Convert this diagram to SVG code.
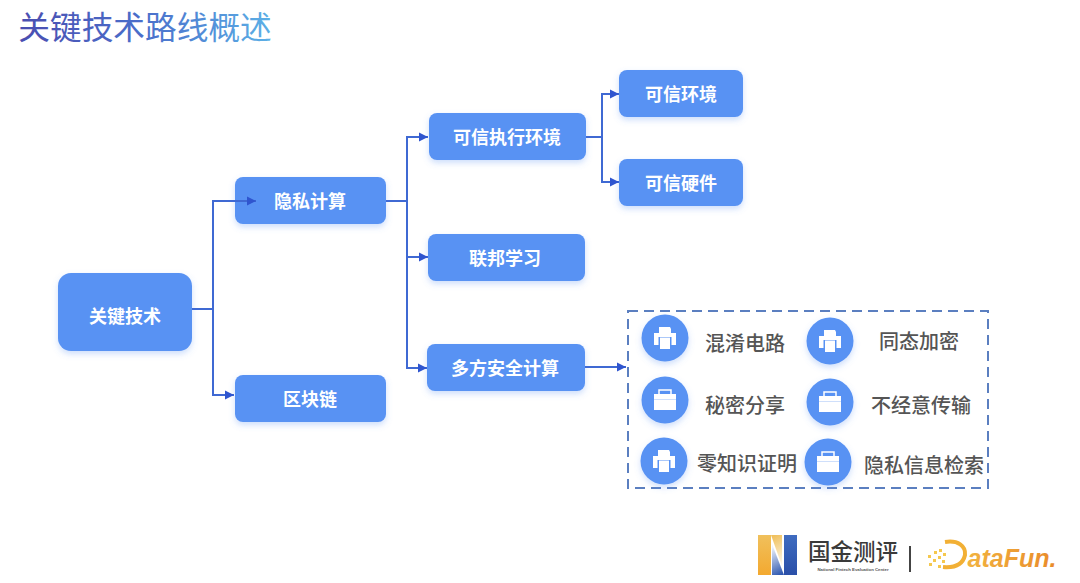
<svg xmlns="http://www.w3.org/2000/svg" width="1080" height="583" viewBox="0 0 1080 583">
<style>
text{font-family:"Noto Sans CJK SC","Liberation Sans",sans-serif;text-anchor:middle}
.n{fill:#5892f3;filter:url(#sh)}
.nt{fill:#fff;font-size:18px;font-weight:700}
.lb{fill:#555;font-size:20px;font-weight:500}
.c{fill:none;stroke:#3f69d3;stroke-width:2}
.dot{fill:#f5c84e}
</style>
<defs>
<linearGradient id="tg" gradientUnits="userSpaceOnUse" x1="18" y1="0" x2="272" y2="0"><stop offset="0" stop-color="#4a4db0"/><stop offset=".5" stop-color="#4a6fcb"/><stop offset="1" stop-color="#5cb0e6"/></linearGradient>
<linearGradient id="nl" x1="0" y1="0" x2="0" y2="1"><stop offset="0" stop-color="#f0c05c"/><stop offset="1" stop-color="#f3a930"/></linearGradient>
<linearGradient id="nlf" gradientUnits="userSpaceOnUse" x1="771" y1="537" x2="784" y2="562"><stop offset="0" stop-color="#f0c05c"/><stop offset="1" stop-color="#fdf6e6"/></linearGradient>
<linearGradient id="nr" x1="0" y1="0" x2="0" y2="1"><stop offset="0" stop-color="#3f6cc0"/><stop offset="1" stop-color="#2a4fa8"/></linearGradient>
<linearGradient id="nrf" gradientUnits="userSpaceOnUse" x1="784" y1="573" x2="771" y2="548"><stop offset="0" stop-color="#2f58b0"/><stop offset="1" stop-color="#eef2fb"/></linearGradient>
<linearGradient id="df" gradientUnits="userSpaceOnUse" x1="945" y1="0" x2="1058" y2="0"><stop offset="0" stop-color="#f4bd45"/><stop offset="1" stop-color="#e98a2a"/></linearGradient>
<filter id="sh" x="-15%" y="-20%" width="130%" height="150%"><feDropShadow dx="0" dy="3" stdDeviation="3" flood-color="#5892f3" flood-opacity=".3"/></filter>
<marker id="a" markerUnits="userSpaceOnUse" markerWidth="12" markerHeight="12" refX="10" refY="6" orient="auto"><path d="M1 1.500L10 6L1 10.500Z" fill="#2f55cf"/></marker>
<g id="printer"><path d="M-6-11H5L6-9V-5H-6Z" fill="#fff"/><path d="M-11-5H11V7H-11Z" fill="#fff"/><path d="M-6.500-1H6.500V12H-6.500Z" fill="#5892f3"/><path d="M-5-.5H5V11H-5Z" fill="#fff"/></g>
<g id="case"><path d="M-6-6V-10H6V-6" fill="none" stroke="#fff" stroke-width="1.500"/><path d="M-11-6H11V10H-11Z" fill="#fff"/><path d="M-11-.5H11" stroke="#cfdffb" stroke-width="1"/></g>
</defs>
<rect width="1080" height="583" fill="#fff"/>
<text id="title" x="145" y="39" style="font-size:31.700px;fill:url(#tg)">关键技术路线概述</text>
<g id="n-key"><rect class="n" x="58" y="273" width="134" height="78" rx="13"/><text class="nt" x="125" y="323">关键技术</text></g>
<g id="n-privacy"><rect class="n" x="235" y="177" width="151" height="47" rx="8"/><text class="nt" x="310" y="208">隐私计算</text></g>
<g id="n-chain"><rect class="n" x="235" y="375" width="151" height="47" rx="8"/><text class="nt" x="310" y="406">区块链</text></g>
<g id="n-tee"><rect class="n" x="429" y="113" width="157" height="47" rx="8"/><text class="nt" x="507" y="144">可信执行环境</text></g>
<g id="n-fl"><rect class="n" x="428" y="234" width="157" height="47" rx="8"/><text class="nt" x="505" y="265">联邦学习</text></g>
<g id="n-mpc"><rect class="n" x="427" y="344" width="158" height="47" rx="8"/><text class="nt" x="505" y="375">多方安全计算</text></g>
<g id="n-env"><rect class="n" x="619" y="70" width="124" height="47" rx="8"/><text class="nt" x="681" y="101">可信环境</text></g>
<g id="n-hw"><rect class="n" x="619" y="159" width="124" height="47" rx="8"/><text class="nt" x="681" y="190">可信硬件</text></g>
<g id="connectors">
<path class="c" d="M192 309H213"/>
<path class="c" d="M213 309V201H256" marker-end="url(#a)"/>
<path class="c" d="M213 309V395H234" marker-end="url(#a)"/>
<path class="c" d="M386 201H407"/>
<path class="c" d="M407 201V137H428" marker-end="url(#a)"/>
<path class="c" d="M407 201V257H428" marker-end="url(#a)"/>
<path class="c" d="M407 201V368H427" marker-end="url(#a)"/>
<path class="c" d="M586 137H602"/>
<path class="c" d="M602 137V94H619" marker-end="url(#a)"/>
<path class="c" d="M602 137V182H619" marker-end="url(#a)"/>
<path class="c" d="M585 367H626" marker-end="url(#a)"/>
</g>
<g id="mpc-box"><rect x="628" y="311" width="360" height="177" fill="none" stroke="#5b7fc0" stroke-width="2" stroke-dasharray="10 6"/></g>
<g id="i-gc"><circle class="n" cx="665" cy="338" r="23.500"/><use href="#printer" x="665" y="338"/><text class="lb" x="745" y="351">混淆电路</text></g>
<g id="i-he"><circle class="n" cx="830" cy="341" r="23.500"/><use href="#printer" x="830" y="341"/><text class="lb" x="919" y="349">同态加密</text></g>
<g id="i-ss"><circle class="n" cx="665" cy="400" r="23.500"/><use href="#case" x="665" y="400"/><text class="lb" x="745" y="413">秘密分享</text></g>
<g id="i-ot"><circle class="n" cx="830" cy="402" r="23.500"/><use href="#case" x="830" y="402"/><text class="lb" x="921" y="413">不经意传输</text></g>
<g id="i-zk"><circle class="n" cx="664" cy="461" r="23.500"/><use href="#printer" x="664" y="461"/><text class="lb" x="747" y="471">零知识证明</text></g>
<g id="i-pir"><circle class="n" cx="828" cy="462" r="23.500"/><use href="#case" x="828" y="462"/><text class="lb" x="924" y="473">隐私信息检索</text></g>
<g id="logo-n">
<path d="M771 535H782V566Z" fill="url(#nlf)"/>
<path d="M784 575H772V544Z" fill="url(#nrf)"/>
<path d="M758 535H771V575H758Z" fill="url(#nl)"/>
<path d="M784 535H797V575H784Z" fill="url(#nr)"/>
</g>
<text x="853" y="560" style="font-size:22.500px;fill:#3a3a3a;font-weight:500">国金测评</text>
<text x="853" y="571" style="font-size:4.300px;fill:#555;font-family:'Liberation Sans',sans-serif;font-weight:700">National Fintech Evaluation Center</text>
<rect x="909" y="546" width="2" height="26" fill="#444"/>
<g id="logo-df">
<rect class="dot" x="939" y="549" width="3" height="3"/><rect class="dot" x="934" y="551" width="3" height="3"/><rect class="dot" x="943" y="553" width="3" height="3"/><rect class="dot" x="928" y="555" width="3" height="3"/><rect class="dot" x="938" y="556" width="3" height="3"/><rect class="dot" x="933" y="559" width="3" height="3"/><rect class="dot" x="942" y="560" width="3" height="3"/><rect class="dot" x="929" y="563" width="3" height="3"/><rect class="dot" x="938" y="565" width="3" height="3"/>
<path d="M945 542C958 540 966 546 965 555C963 564 955 568 943 567" fill="none" stroke="#f2b035" stroke-width="4"/>
</g>
<text x="1012" y="567" style="font-size:25px;font-weight:700;font-style:italic;fill:url(#df);font-family:'Liberation Sans',sans-serif">ataFun.</text>
</svg>
